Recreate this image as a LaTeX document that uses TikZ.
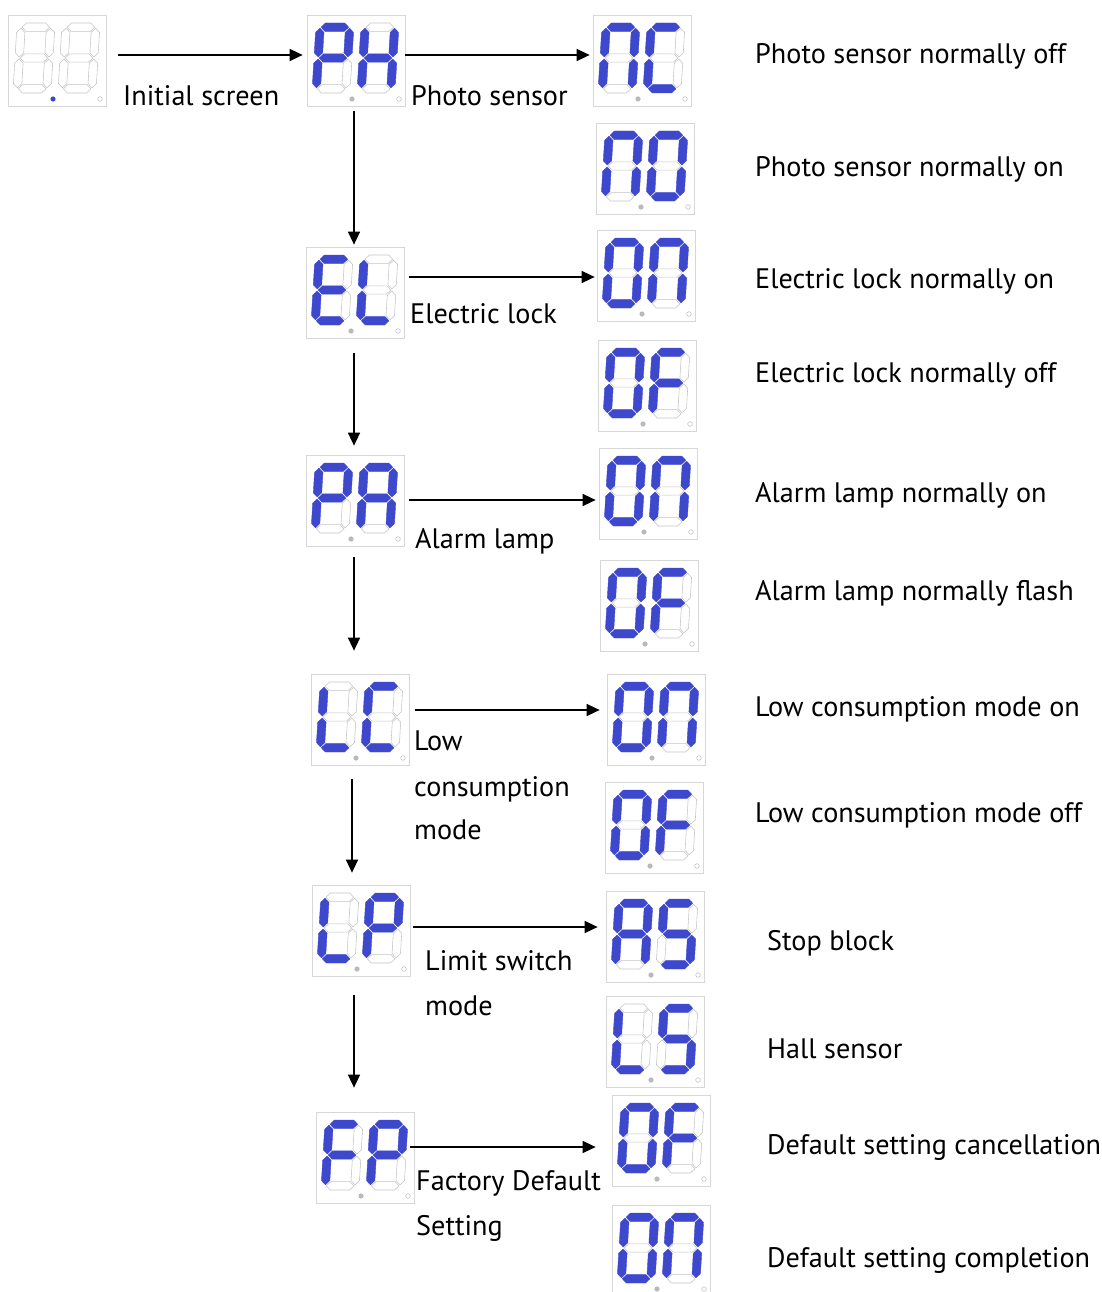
\documentclass[tikz,border=0pt]{standalone}
\usepackage{fontspec}
\setmainfont{PT Sans}
\usetikzlibrary{arrows.meta,calc}
\definecolor{segblue}{RGB}{62,72,204}
\definecolor{segoff}{RGB}{195,195,195}
\definecolor{boxline}{RGB}{215,215,215}
\tikzset{
  seg1/.style={fill=segblue,draw=segblue,line width=0.4pt,line join=round},
  seg0/.style={draw=segoff,line width=0.55pt},
  dbox/.style={rectangle,minimum width=98pt,minimum height=91pt,draw=boxline,line width=0.7pt,inner sep=0pt},
  arr/.style={line width=1.4pt,-{Triangle[length=13pt,width=12pt]}},
  lbl/.style={anchor=mid west,inner sep=0pt,font=\fontsize{28.2}{32}\selectfont}
}
\def\st{4.2}
% horizontal segment: style, x1, x2, y centre
\newcommand\hsg[4]{\path[#1] (#2,#4) -- (#2+\st,#4-\st) -- (#3-\st,#4-\st) -- (#3,#4) -- (#3-\st,#4+\st) -- (#2+\st,#4+\st) -- cycle;}
% vertical segment: style, x centre, y1, y2
\newcommand\vsg[4]{\path[#1] (#2,#3) -- (#2+\st,#3+\st) -- (#2+\st,#4-\st) -- (#2,#4) -- (#2-\st,#4-\st) -- (#2-\st,#3+\st) -- cycle;}
% digit: x, y, a b c d e f g
\newcommand\dig[9]{%
  \begin{scope}[shift={(#1+2,#2+35)},xslant=0.06,shift={(0,-35)}]
    \hsg{seg#3}{5.2}{32.8}{4.2}
    \vsg{seg#4}{33.8}{5.2}{34}
    \vsg{seg#5}{33.8}{36}{64.8}
    \hsg{seg#6}{5.2}{32.8}{65.8}
    \vsg{seg#7}{4.2}{36}{64.8}
    \vsg{seg#8}{4.2}{5.2}{34}
    \hsg{seg#9}{5.2}{32.8}{35}
  \end{scope}}
% display: name, x, y (top left), left bits, right bits, left dp colour
\newcommand\disp[6]{%
  \node[dbox] (#1) at (#2+49,#3+45.5) {};
  \begin{scope}[shift={(#2,#3)}]
    \dig{5}{8}#4
    \dig{50}{8}#5
    \fill[#6] (45,84) circle (2.6);
    \draw[segoff,line width=0.6pt] (92,84) circle (2.3);
  \end{scope}}
\begin{document}
\begin{tikzpicture}[x=1pt,y=-1pt]
\useasboundingbox (0,0) rectangle (1102,1292);
% displays
\disp{init}{8}{15}{0000000}{0000000}{segblue}
\disp{ph}{307}{15}{1100111}{0110111}{gray!55}
\disp{nc}{593}{15}{1110110}{1001110}{gray!55}
\disp{no}{596}{123}{1110110}{1111110}{gray!55}
\disp{el}{306}{247}{1001111}{0001110}{gray!55}
\disp{elon}{597}{230}{1111110}{1110110}{gray!55}
\disp{elof}{598}{340}{1111110}{1000111}{gray!55}
\disp{pa}{306}{455}{1100111}{1110111}{gray!55}
\disp{paon}{599}{448}{1111110}{1110110}{gray!55}
\disp{paof}{600}{560}{1111110}{1000111}{gray!55}
\disp{lc}{311}{674}{0001110}{1001110}{gray!55}
\disp{lcon}{607}{674}{1111110}{1110110}{gray!55}
\disp{lcof}{605}{782}{1111110}{1000111}{gray!55}
\disp{lp}{312}{885}{0001110}{1100111}{gray!55}
\disp{as}{606}{891}{1110111}{1011011}{gray!55}
\disp{ls}{606}{996}{0001110}{1011011}{gray!55}
\disp{fp}{316}{1112}{1000111}{1100111}{gray!55}
\disp{fpof}{612}{1095}{1111110}{1000111}{gray!55}
\disp{fpon}{612}{1205}{1111110}{1110110}{gray!55}
% arrows
\draw[arr] ($(init.east)+(12,-5.5)$) -- ($(ph.west)+(-4,-5.5)$);
\draw[arr] ($(ph.east)+(0,-5.5)$) -- ($(nc.west)+(-3,-5.5)$);
\draw[arr] ($(ph.south)+(-2,5)$) -- ($(ph.south |- el.north)+(-2,-2)$);
\draw[arr] ($(el.east |- elon.west)+(5,1.5)$) -- ($(elon.west)+(-2,1.5)$);
\draw[arr] ($(el.south)+(-1,15)$) -- ($(el.south |- pa.north)+(-1,-9)$);
\draw[arr] ($(pa.east |- paon.west)+(5,6.5)$) -- ($(paon.west)+(-3,6.5)$);
\draw[arr] ($(pa.south)+(-1,11)$) -- ($(pa.south |- lc.north)+(-1,-23)$);
\draw[arr] ($(lc.east |- lcon.west)+(6,-9.5)$) -- ($(lcon.west)+(-7,-9.5)$);
\draw[arr] ($(lc.south)+(-8,14)$) -- ($(lc.south |- lp.north)+(-8,-12)$);
\draw[arr] ($(lp.east |- as.west)+(3,-9.5)$) -- ($(as.west)+(-8,-9.5)$);
\draw[arr] ($(lp.south)+(-7,19)$) -- ($(lp.south |- fp.north)+(-7,-24)$);
\draw[arr] ($(fp.east |- fpof.west)+(-4,6.5)$) -- ($(fpof.west)+(-16,6.5)$);
% left labels
\node[lbl] (tinit) at (123,103) {Initial screen};
\node[lbl] (tph) at (411,103) {Photo sensor};
\node[lbl] (tel) at (410,321) {Electric lock};
\node[lbl] (tpa) at (415,546) {Alarm lamp};
\node[lbl] (tlc1) at (414,748) {Low};
\node[lbl] (tlc2) at (414,794) {consumption};
\node[lbl] (tlc3) at (414,837) {mode};
\node[lbl] (tlp1) at (425,968) {Limit switch};
\node[lbl] (tlp2) at (425,1013) {mode};
\node[lbl] (tfp1) at (416,1188) {Factory Default};
\node[lbl] (tfp2) at (416,1233) {Setting};
% right labels
\node[lbl] (tnc) at (755,61) {Photo sensor normally off};
\node[lbl] (tno) at (755,174) {Photo sensor normally on};
\node[lbl] (telon) at (755,286) {Electric lock normally on};
\node[lbl] (telof) at (755,380) {Electric lock normally off};
\node[lbl] (tpaon) at (755,500) {Alarm lamp normally on};
\node[lbl] (tpaof) at (755,598) {Alarm lamp normally flash};
\node[lbl] (tlcon) at (755,714) {Low consumption mode on};
\node[lbl] (tlcof) at (755,820) {Low consumption mode off};
\node[lbl] (tas) at (767,948) {Stop block};
\node[lbl] (tls) at (767,1056) {Hall sensor};
\node[lbl] (tfpof) at (767,1152) {Default setting cancellation};
\node[lbl] (tfpon) at (767,1265) {Default setting completion};
\end{tikzpicture}
\end{document}
